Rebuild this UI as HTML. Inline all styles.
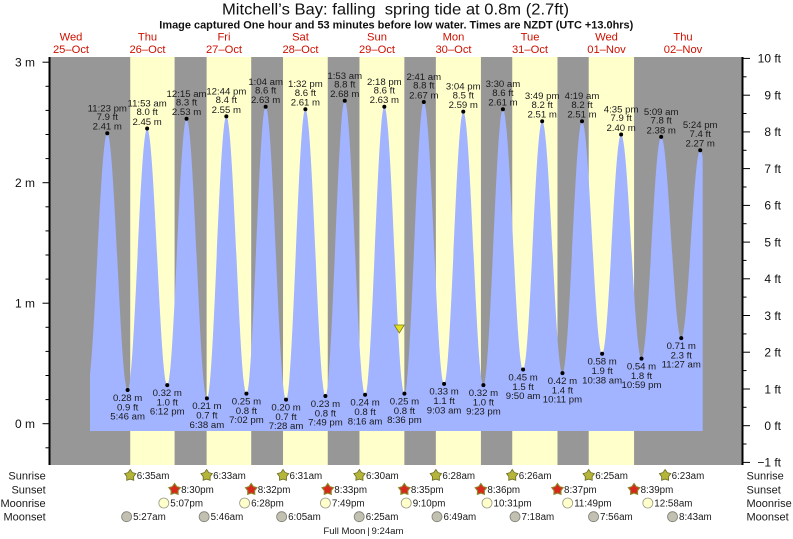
<!DOCTYPE html>
<html><head><meta charset="utf-8"><style>
html,body{margin:0;padding:0;background:#fff;}
svg{display:block;}
text{font-family:"Liberation Sans",sans-serif;}
</style></head><body>
<svg width="793" height="539" viewBox="0 0 793 539" xmlns="http://www.w3.org/2000/svg">
<defs>
<clipPath id="cp"><rect x="90" y="50" width="612.7" height="381"/></clipPath>
<polygon id="star" points="0,-6 2.12,-2.91 5.71,-1.85 3.42,1.11 3.53,4.85 0,3.6 -3.53,4.85 -3.42,1.11 -5.71,-1.85 -2.12,-2.91"/>
</defs>
<rect x="0" y="0" width="793" height="539" fill="#fff"/>
<!-- title -->
<text x="222" y="14.5" font-size="16" fill="#111" textLength="347" lengthAdjust="spacingAndGlyphs" style="white-space:pre" xml:space="preserve">Mitchell’s Bay: falling  spring tide at 0.8m (2.7ft)</text>
<text x="159.3" y="28.5" font-size="11" font-weight="bold" fill="#111" textLength="474" lengthAdjust="spacingAndGlyphs">Image captured One hour and 53 minutes before low water. Times are NZDT (UTC +13.0hrs)</text>
<!-- day labels -->
<g font-size="11.2" fill="#cc1100" text-anchor="middle">
<text x="71" y="40.5">Wed</text><text x="71" y="53">25–Oct</text>
<text x="147.5" y="40.5">Thu</text><text x="147.5" y="53">26–Oct</text>
<text x="224" y="40.5">Fri</text><text x="224" y="53">27–Oct</text>
<text x="300.5" y="40.5">Sat</text><text x="300.5" y="53">28–Oct</text>
<text x="377" y="40.5">Sun</text><text x="377" y="53">29–Oct</text>
<text x="453.5" y="40.5">Mon</text><text x="453.5" y="53">30–Oct</text>
<text x="530" y="40.5">Tue</text><text x="530" y="53">31–Oct</text>
<text x="606.5" y="40.5">Wed</text><text x="606.5" y="53">01–Nov</text>
<text x="683" y="40.5">Thu</text><text x="683" y="53">02–Nov</text>
</g>
<!-- plot background -->
<rect x="49" y="57" width="694" height="408" fill="#979797"/>
<g fill="#ffffcc">
<rect x="130.23" y="57" width="44.36" height="408"/>
<rect x="206.63" y="57" width="44.57" height="408"/>
<rect x="283.02" y="57" width="44.73" height="408"/>
<rect x="359.47" y="57" width="44.89" height="408"/>
<rect x="435.86" y="57" width="45.05" height="408"/>
<rect x="512.26" y="57" width="45.21" height="408"/>
<rect x="588.70" y="57" width="45.37" height="408"/>
</g>
<!-- tide -->
<path clip-path="url(#cp)" fill="#a2b3ff" d="M87,387.5
C94.38,387.5 99.90,133.3 107.28,133.3
C114.69,133.3 120.22,389.96 127.63,389.96
C134.73,389.96 140.03,128.5 147.13,128.5
C154.46,128.5 159.93,385.14 167.26,385.14
C174.28,385.14 179.53,118.8 186.55,118.8
C193.95,118.8 199.49,398.4 206.89,398.4
C213.97,398.4 219.26,116.4 226.34,116.4
C233.65,116.4 239.11,393.6 246.42,393.6
C253.42,393.6 258.65,106.8 265.65,106.8
C273.08,106.8 278.62,399.6 286.05,399.6
C293.09,399.6 298.35,109.2 305.39,109.2
C312.68,109.2 318.13,396.0 325.42,396.0
C332.46,396.0 337.71,100.8 344.75,100.8
C352.16,100.8 357.69,394.8 365.10,394.8
C372.10,394.8 377.33,106.8 384.33,106.8
C391.64,106.8 397.10,393.6 404.41,393.6
C411.47,393.6 416.74,102.0 423.80,102.0
C431.19,102.0 436.71,383.9 444.10,383.9
C451.08,383.9 456.29,111.6 463.27,111.6
C470.60,111.6 476.08,385.1 483.41,385.1
C490.51,385.1 495.81,109.2 502.91,109.2
C510.26,109.2 515.74,369.5 523.09,369.5
C530.04,369.5 535.22,121.2 542.17,121.2
C549.56,121.2 555.07,373.1 562.46,373.1
C569.58,373.1 574.89,121.2 582.01,121.2
C589.34,121.2 594.81,353.8 602.14,353.8
C609.05,353.8 614.20,134.5 621.11,134.5
C628.54,134.5 634.08,358.6 641.51,358.6
C648.67,358.6 654.01,136.9 661.17,136.9
C668.48,136.9 673.94,338.1 681.25,338.1
C688.15,338.1 693.31,150.2 700.21,150.2
C707.41,150.2 712.80,327.3 720,327.3
L720,431 L87,431 Z"/>
<!-- dots -->
<g fill="#000">
<circle cx="107.28" cy="133.3" r="2"/><circle cx="127.63" cy="389.96" r="2"/>
<circle cx="147.13" cy="128.5" r="2"/><circle cx="167.26" cy="385.14" r="2"/>
<circle cx="186.55" cy="118.8" r="2"/><circle cx="206.89" cy="398.4" r="2"/>
<circle cx="226.34" cy="116.4" r="2"/><circle cx="246.42" cy="393.6" r="2"/>
<circle cx="265.65" cy="106.8" r="2"/><circle cx="286.05" cy="399.6" r="2"/>
<circle cx="305.39" cy="109.2" r="2"/><circle cx="325.42" cy="396.0" r="2"/>
<circle cx="344.75" cy="100.8" r="2"/><circle cx="365.10" cy="394.8" r="2"/>
<circle cx="384.33" cy="106.8" r="2"/><circle cx="404.41" cy="393.6" r="2"/>
<circle cx="423.80" cy="102.0" r="2"/><circle cx="444.10" cy="383.9" r="2"/>
<circle cx="463.27" cy="111.6" r="2"/><circle cx="483.41" cy="385.1" r="2"/>
<circle cx="502.91" cy="109.2" r="2"/><circle cx="523.09" cy="369.5" r="2"/>
<circle cx="542.17" cy="121.2" r="2"/><circle cx="562.46" cy="373.1" r="2"/>
<circle cx="582.01" cy="121.2" r="2"/><circle cx="602.14" cy="353.8" r="2"/>
<circle cx="621.11" cy="134.5" r="2"/><circle cx="641.51" cy="358.6" r="2"/>
<circle cx="661.17" cy="136.9" r="2"/><circle cx="681.25" cy="338.1" r="2"/>
<circle cx="700.21" cy="150.2" r="2"/>
</g>
<!-- high labels -->
<g font-size="9.6" fill="#1a1a1a" text-anchor="middle">
<text x="107.28" y="111.3">11:23 pm</text><text x="107.28" y="120.0">7.9 ft</text><text x="107.28" y="129.7">2.41 m</text>
<text x="147.13" y="106.5">11:53 am</text><text x="147.13" y="115.2">8.0 ft</text><text x="147.13" y="124.9">2.45 m</text>
<text x="186.55" y="96.8">12:15 am</text><text x="186.55" y="105.5">8.3 ft</text><text x="186.55" y="115.2">2.53 m</text>
<text x="226.34" y="94.4">12:44 pm</text><text x="226.34" y="103.1">8.4 ft</text><text x="226.34" y="112.8">2.55 m</text>
<text x="265.65" y="84.8">1:04 am</text><text x="265.65" y="93.5">8.6 ft</text><text x="265.65" y="103.2">2.63 m</text>
<text x="305.39" y="87.2">1:32 pm</text><text x="305.39" y="95.9">8.6 ft</text><text x="305.39" y="105.6">2.61 m</text>
<text x="344.75" y="78.8">1:53 am</text><text x="344.75" y="87.5">8.8 ft</text><text x="344.75" y="97.2">2.68 m</text>
<text x="384.33" y="84.8">2:18 pm</text><text x="384.33" y="93.5">8.6 ft</text><text x="384.33" y="103.2">2.63 m</text>
<text x="423.80" y="80.0">2:41 am</text><text x="423.80" y="88.7">8.8 ft</text><text x="423.80" y="98.4">2.67 m</text>
<text x="463.27" y="89.6">3:04 pm</text><text x="463.27" y="98.3">8.5 ft</text><text x="463.27" y="108.0">2.59 m</text>
<text x="502.91" y="87.2">3:30 am</text><text x="502.91" y="95.9">8.6 ft</text><text x="502.91" y="105.6">2.61 m</text>
<text x="542.17" y="99.2">3:49 pm</text><text x="542.17" y="107.9">8.2 ft</text><text x="542.17" y="117.6">2.51 m</text>
<text x="582.01" y="99.2">4:19 am</text><text x="582.01" y="107.9">8.2 ft</text><text x="582.01" y="117.6">2.51 m</text>
<text x="621.11" y="112.5">4:35 pm</text><text x="621.11" y="121.2">7.9 ft</text><text x="621.11" y="130.9">2.40 m</text>
<text x="661.17" y="114.9">5:09 am</text><text x="661.17" y="123.6">7.8 ft</text><text x="661.17" y="133.3">2.38 m</text>
<text x="700.21" y="128.2">5:24 pm</text><text x="700.21" y="136.9">7.4 ft</text><text x="700.21" y="146.6">2.27 m</text>
</g>
<!-- low labels -->
<g font-size="9.6" fill="#1a1a1a" text-anchor="middle">
<text x="127.63" y="400.8">0.28 m</text><text x="127.63" y="410.3">0.9 ft</text><text x="127.63" y="419.6">5:46 am</text>
<text x="167.26" y="395.9">0.32 m</text><text x="167.26" y="405.4">1.0 ft</text><text x="167.26" y="414.7">6:12 pm</text>
<text x="206.89" y="409.2">0.21 m</text><text x="206.89" y="418.7">0.7 ft</text><text x="206.89" y="428.0">6:38 am</text>
<text x="246.42" y="404.4">0.25 m</text><text x="246.42" y="413.9">0.8 ft</text><text x="246.42" y="423.2">7:02 pm</text>
<text x="286.05" y="410.4">0.20 m</text><text x="286.05" y="419.9">0.7 ft</text><text x="286.05" y="429.2">7:28 am</text>
<text x="325.42" y="406.8">0.23 m</text><text x="325.42" y="416.3">0.8 ft</text><text x="325.42" y="425.6">7:49 pm</text>
<text x="365.10" y="405.6">0.24 m</text><text x="365.10" y="415.1">0.8 ft</text><text x="365.10" y="424.4">8:16 am</text>
<text x="404.41" y="404.4">0.25 m</text><text x="404.41" y="413.9">0.8 ft</text><text x="404.41" y="423.2">8:36 pm</text>
<text x="444.10" y="394.7">0.33 m</text><text x="444.10" y="404.2">1.1 ft</text><text x="444.10" y="413.5">9:03 am</text>
<text x="483.41" y="395.9">0.32 m</text><text x="483.41" y="405.4">1.0 ft</text><text x="483.41" y="414.7">9:23 pm</text>
<text x="523.09" y="380.3">0.45 m</text><text x="523.09" y="389.8">1.5 ft</text><text x="523.09" y="399.1">9:50 am</text>
<text x="562.46" y="383.9">0.42 m</text><text x="562.46" y="393.4">1.4 ft</text><text x="562.46" y="402.7">10:11 pm</text>
<text x="602.14" y="364.6">0.58 m</text><text x="602.14" y="374.1">1.9 ft</text><text x="602.14" y="383.4">10:38 am</text>
<text x="641.51" y="369.4">0.54 m</text><text x="641.51" y="378.9">1.8 ft</text><text x="641.51" y="388.2">10:59 pm</text>
<text x="681.25" y="348.9">0.71 m</text><text x="681.25" y="358.4">2.3 ft</text><text x="681.25" y="367.7">11:27 am</text>
</g>
<!-- current marker -->
<polygon points="394.3,325 404.3,325 399.3,333" fill="#e6e01e" stroke="#7a7a20" stroke-width="0.8"/>
<!-- left axis -->
<line x1="49.5" y1="57" x2="49.5" y2="465" stroke="#000" stroke-width="2"/>
<g stroke="#000" stroke-width="1">
<line x1="42.5" y1="62.2" x2="49" y2="62.2"/><line x1="42.5" y1="182.7" x2="49" y2="182.7"/>
<line x1="42.5" y1="303.2" x2="49" y2="303.2"/><line x1="42.5" y1="423.7" x2="49" y2="423.7"/>
<line x1="45.5" y1="447.8" x2="49" y2="447.8"/>
<line x1="45.5" y1="399.6" x2="49" y2="399.6"/><line x1="45.5" y1="375.5" x2="49" y2="375.5"/>
<line x1="45.5" y1="351.4" x2="49" y2="351.4"/><line x1="45.5" y1="327.3" x2="49" y2="327.3"/>
<line x1="45.5" y1="279.1" x2="49" y2="279.1"/><line x1="45.5" y1="255.0" x2="49" y2="255.0"/>
<line x1="45.5" y1="230.9" x2="49" y2="230.9"/><line x1="45.5" y1="206.8" x2="49" y2="206.8"/>
<line x1="45.5" y1="158.6" x2="49" y2="158.6"/><line x1="45.5" y1="134.5" x2="49" y2="134.5"/>
<line x1="45.5" y1="110.4" x2="49" y2="110.4"/><line x1="45.5" y1="86.3" x2="49" y2="86.3"/>
</g>
<g font-size="12" fill="#111" text-anchor="end">
<text x="35" y="66.5">3 m</text><text x="35" y="187">2 m</text>
<text x="35" y="307.5">1 m</text><text x="35" y="428">0 m</text>
</g>
<!-- right axis -->
<line x1="742.5" y1="57" x2="742.5" y2="465" stroke="#000" stroke-width="2"/>
<g stroke="#000" stroke-width="1">
<line x1="743" y1="462.4" x2="750" y2="462.4"/><line x1="743" y1="425.7" x2="750" y2="425.7"/>
<line x1="743" y1="389.0" x2="750" y2="389.0"/><line x1="743" y1="352.2" x2="750" y2="352.2"/>
<line x1="743" y1="315.5" x2="750" y2="315.5"/><line x1="743" y1="278.8" x2="750" y2="278.8"/>
<line x1="743" y1="242.1" x2="750" y2="242.1"/><line x1="743" y1="205.4" x2="750" y2="205.4"/>
<line x1="743" y1="168.6" x2="750" y2="168.6"/><line x1="743" y1="131.9" x2="750" y2="131.9"/>
<line x1="743" y1="95.2" x2="750" y2="95.2"/><line x1="743" y1="58.4" x2="750" y2="58.4"/>
<line x1="743" y1="444.0" x2="746.5" y2="444.0"/><line x1="743" y1="407.3" x2="746.5" y2="407.3"/>
<line x1="743" y1="370.6" x2="746.5" y2="370.6"/><line x1="743" y1="333.9" x2="746.5" y2="333.9"/>
<line x1="743" y1="297.1" x2="746.5" y2="297.1"/><line x1="743" y1="260.4" x2="746.5" y2="260.4"/>
<line x1="743" y1="223.7" x2="746.5" y2="223.7"/><line x1="743" y1="187.0" x2="746.5" y2="187.0"/>
<line x1="743" y1="150.3" x2="746.5" y2="150.3"/><line x1="743" y1="113.5" x2="746.5" y2="113.5"/>
<line x1="743" y1="76.8" x2="746.5" y2="76.8"/>
</g>
<g font-size="12" fill="#111" text-anchor="end">
<text x="781" y="466.7">−1 ft</text><text x="781" y="430">0 ft</text>
<text x="781" y="393.3">1 ft</text><text x="781" y="356.5">2 ft</text>
<text x="781" y="319.8">3 ft</text><text x="781" y="283.1">4 ft</text>
<text x="781" y="246.4">5 ft</text><text x="781" y="209.7">6 ft</text>
<text x="781" y="172.9">7 ft</text><text x="781" y="136.2">8 ft</text>
<text x="781" y="99.5">9 ft</text><text x="781" y="62.7">10 ft</text>
</g>
<!-- bottom rows labels -->
<g font-size="11" fill="#1a1a1a">
<g text-anchor="end">
<text x="45.7" y="479.5">Sunrise</text><text x="45.7" y="493.5">Sunset</text>
<text x="45.7" y="507">Moonrise</text><text x="45.7" y="520.7">Moonset</text>
</g>
<text x="746.5" y="479.5">Sunrise</text><text x="746.5" y="493.5">Sunset</text>
<text x="746.5" y="507">Moonrise</text><text x="746.5" y="520.7">Moonset</text>
</g>
<!-- sunrise icons -->
<g fill="#b5b53a" stroke="#6a6a22" stroke-width="0.8">
<use href="#star" x="130.23" y="475.5"/><use href="#star" x="206.63" y="475.5"/>
<use href="#star" x="283.02" y="475.5"/><use href="#star" x="359.47" y="475.5"/>
<use href="#star" x="435.86" y="475.5"/><use href="#star" x="512.26" y="475.5"/>
<use href="#star" x="588.70" y="475.5"/><use href="#star" x="665.11" y="475.5"/>
</g>
<!-- sunset icons -->
<g fill="#d8281c" stroke="#8a8a2a" stroke-width="1.1">
<use href="#star" x="174.59" y="489.5"/><use href="#star" x="251.20" y="489.5"/>
<use href="#star" x="327.75" y="489.5"/><use href="#star" x="404.36" y="489.5"/>
<use href="#star" x="480.91" y="489.5"/><use href="#star" x="557.47" y="489.5"/>
<use href="#star" x="634.07" y="489.5"/>
</g>
<!-- moonrise icons -->
<g fill="#ffffcc" stroke="#999988" stroke-width="0.8">
<circle cx="163.81" cy="503" r="5"/><circle cx="244.61" cy="503" r="5"/>
<circle cx="325.42" cy="503" r="5"/><circle cx="406.22" cy="503" r="5"/>
<circle cx="487.02" cy="503" r="5"/><circle cx="567.67" cy="503" r="5"/>
<circle cx="647.83" cy="503" r="5"/>
</g>
<!-- moonset icons -->
<g fill="#c2c0b0" stroke="#808078" stroke-width="0.8">
<circle cx="126.62" cy="516.7" r="5"/><circle cx="204.13" cy="516.7" r="5"/>
<circle cx="281.64" cy="516.7" r="5"/><circle cx="359.20" cy="516.7" r="5"/>
<circle cx="436.98" cy="516.7" r="5"/><circle cx="515.02" cy="516.7" r="5"/>
<circle cx="593.54" cy="516.7" r="5"/><circle cx="672.54" cy="516.7" r="5"/>
</g>
<!-- bottom times -->
<g font-size="9.8" fill="#1a1a1a">
<text x="136.7" y="479">6:35am</text><text x="213.1" y="479">6:33am</text>
<text x="289.5" y="479">6:31am</text><text x="366" y="479">6:30am</text>
<text x="442.4" y="479">6:28am</text><text x="518.8" y="479">6:26am</text>
<text x="595.2" y="479">6:25am</text><text x="671.6" y="479">6:23am</text>
<text x="181.1" y="493">8:30pm</text><text x="257.7" y="493">8:32pm</text>
<text x="334.3" y="493">8:33pm</text><text x="410.9" y="493">8:35pm</text>
<text x="487.4" y="493">8:36pm</text><text x="564" y="493">8:37pm</text>
<text x="640.6" y="493">8:39pm</text>
<text x="170.3" y="506.5">5:07pm</text><text x="251.1" y="506.5">6:28pm</text>
<text x="331.9" y="506.5">7:49pm</text><text x="412.7" y="506.5">9:10pm</text>
<text x="493.5" y="506.5">10:31pm</text><text x="574.2" y="506.5">11:49pm</text>
<text x="654.3" y="506.5">12:58am</text>
<text x="133.1" y="520.2">5:27am</text><text x="210.6" y="520.2">5:46am</text>
<text x="288.1" y="520.2">6:05am</text><text x="365.7" y="520.2">6:25am</text>
<text x="443.5" y="520.2">6:49am</text><text x="521.5" y="520.2">7:18am</text>
<text x="600" y="520.2">7:56am</text><text x="679" y="520.2">8:43am</text>
</g>
<g font-size="9.6" fill="#1a1a1a">
<text x="365.5" y="534" text-anchor="end">Full Moon</text>
<text x="368.5" y="534" text-anchor="middle">|</text>
<text x="371.5" y="534">9:24am</text>
</g>
</svg>
</body></html>
